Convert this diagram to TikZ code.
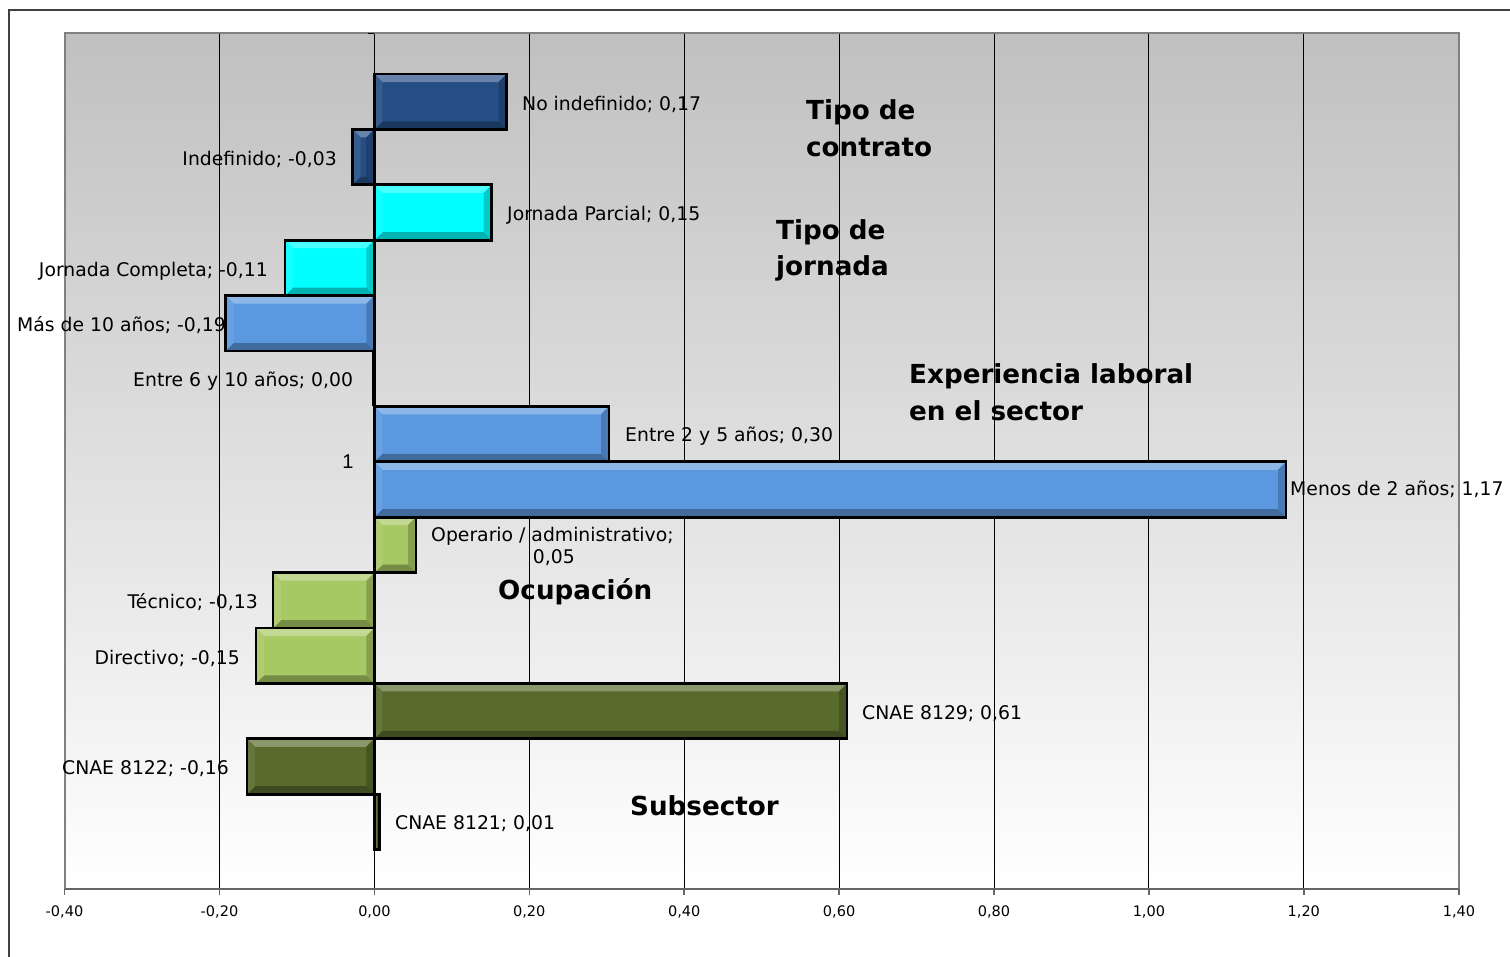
\documentclass[tikz,border=0pt]{standalone}
\usepackage{fontspec}
\setmainfont{DejaVu Sans}
\newfontfamily\arialfont{Liberation Sans}
\definecolor{cblue}{RGB}{37,78,134}
\definecolor{ccyan}{RGB}{0,255,255}
\definecolor{cexp}{RGB}{92,152,224}
\definecolor{cocc}{RGB}{168,200,100}
\definecolor{csub}{RGB}{88,106,44}
\definecolor{frame}{RGB}{64,64,64}
\definecolor{pedge}{RGB}{128,128,128}
\definecolor{bgtop}{RGB}{192,192,192}
\newcommand{\bbar}[5]{%
  \pgfmathsetmacro{\bvw}{min(8,(#3-#1)/2)}%
  \fill[#5] (#1,#2) rectangle (#3,#4);
  \fill[#5!70!white] (#1,#2) -- (#3,#2) -- (#3-\bvw,#2+\bvw) -- (#1+\bvw,#2+\bvw) -- cycle;
  \fill[#5!70!black] (#1,#4) -- (#3,#4) -- (#3-\bvw,#4-\bvw) -- (#1+\bvw,#4-\bvw) -- cycle;
  \fill[#5!92!white] (#1,#2) -- (#1+\bvw,#2+\bvw) -- (#1+\bvw,#4-\bvw) -- (#1,#4) -- cycle;
  \fill[#5!80!black] (#3,#2) -- (#3-\bvw,#2+\bvw) -- (#3-\bvw,#4-\bvw) -- (#3,#4) -- cycle;
  \draw[line width=2.8pt] (#1,#2) rectangle (#3,#4);
}
\tikzset{
  lbl/.style={font=\fontsize{18.8}{22}\selectfont, inner sep=0pt},
  ttl/.style={font=\fontsize{26.2}{31}\selectfont\bfseries, inner sep=0pt},
  tck/.style={font=\fontsize{14.5}{17}\selectfont, inner sep=0pt},
  grid/.style={line width=1pt, black},
}
\begin{document}
\begin{tikzpicture}[x=1pt,y=-1pt]
\useasboundingbox (0,0) rectangle (1510,956);
\fill[white] (0,0) rectangle (1510,956);
% outer frame (top and left visible)
\draw[frame, line width=2pt] (8.5,960) -- (8.5,9.5) -- (1515,9.5);
% plot area
\shade[top color=bgtop, bottom color=white] (64.5,32.5) rectangle (1459,889);
% gridlines
\foreach \gx in {219.5,374.4,529.3,684.2,839.1,994,1148.9,1303.8}
  \draw[grid] (\gx,32.5) -- (\gx,889);
\draw[pedge, line width=2pt] (64.5,889) -- (64.5,32.5) -- (1459,32.5) -- (1459,889);
\draw[black, line width=1pt] (368,33.5) -- (374.4,33.5);
% axis
\draw[frame!80!white, line width=2pt] (64.5,889) -- (1459,889);
\foreach \gx in {64.5,219.5,374.4,529.3,684.2,839.1,994,1148.9,1303.8,1459}
  \draw[frame!80!white, line width=1.5pt] (\gx,889) -- (\gx,895);
% bars
\bbar{374.4}{74}{506.5}{129.4}{cblue}
\bbar{352.5}{129.4}{374.4}{184.8}{cblue}
\bbar{374.4}{184.8}{491.7}{240.2}{ccyan}
\bbar{285}{240.2}{374.4}{295.6}{ccyan}
\bbar{225.5}{295.6}{374.4}{351}{cexp}
\fill[black] (371.5,351) rectangle (376,406.4);
\bbar{374.4}{406.4}{609}{461.8}{cexp}
\bbar{374.4}{461.8}{1286}{517.2}{cexp}
\bbar{374.4}{517.2}{416}{572.6}{cocc}
\bbar{273}{572.6}{374.4}{628}{cocc}
\bbar{256}{628}{374.4}{683.4}{cocc}
\bbar{374.4}{683.4}{847}{738.8}{csub}
\bbar{247}{738.8}{374.4}{794.2}{csub}
\bbar{374.4}{794.2}{379.5}{849.6}{csub}
% data labels
\node[lbl, anchor=base west] (l1) at (522,110) {No indefinido; 0,17};
\node[lbl, anchor=base east] (l2) at (337,165) {Indefinido; -0,03};
\node[lbl, anchor=base west] (l3) at (507,220) {Jornada Parcial; 0,15};
\node[lbl, anchor=base east] (l4) at (268,276) {Jornada Completa; -0,11};
\node[lbl, anchor=base west] (l5) at (17,331) {Más de 10 años; -0,19};
\node[lbl, anchor=base west] (l6) at (133,386) {Entre 6 y 10 años; 0,00};
\node[lbl, anchor=base west] (l7) at (625,441) {Entre 2 y 5 años; 0,30};
\node[lbl, anchor=base west] (l8) at (1290,495) {Menos de 2 años; 1,17};
\node[lbl, anchor=base west] (l9a) at (431,541) {Operario / administrativo;};
\node[lbl, anchor=base west] (l9b) at (532.7,563.3) {0,05};
\node[lbl, anchor=base east] (l10) at (258,608) {Técnico; -0,13};
\node[lbl, anchor=base east] (l11) at (240,664) {Directivo; -0,15};
\node[lbl, anchor=base west] (l12) at (862,719) {CNAE 8129; 0,61};
\node[lbl, anchor=base west] (l13) at (62,774) {CNAE 8122; -0,16};
\node[lbl, anchor=base west] (l14) at (395,829) {CNAE 8121; 0,01};
\node[inner sep=0pt, font=\arialfont\fontsize{20}{24}\selectfont] (cat1) at (348,462) {1};
% group titles
\node[ttl, anchor=base west] (t1a) at (806,119) {Tipo de};
\node[ttl, anchor=base west] (t1b) at (806,156) {contrato};
\node[ttl, anchor=base west] (t2a) at (776,239) {Tipo de};
\node[ttl, anchor=base west] (t2b) at (776,275) {jornada};
\node[ttl, anchor=base west] (t3a) at (909,383) {Experiencia laboral};
\node[ttl, anchor=base west] (t3b) at (909,420) {en el sector};
\node[ttl, anchor=base west] (t4) at (498,599) {Ocupación};
\node[ttl, anchor=base west] (t5) at (630,815) {Subsector};
% tick labels
\foreach \gx/\tl [count=\k] in {64.5/{-0,40},219.5/{-0,20},374.4/{0,00},529.3/{0,20},684.2/{0,40},839.1/{0,60},994/{0,80},1148.9/{1,00},1303.8/{1,20},1459/{1,40}}
  \node[tck, anchor=base] (tk\k) at (\gx,916) {\tl};
\end{tikzpicture}
\end{document}
